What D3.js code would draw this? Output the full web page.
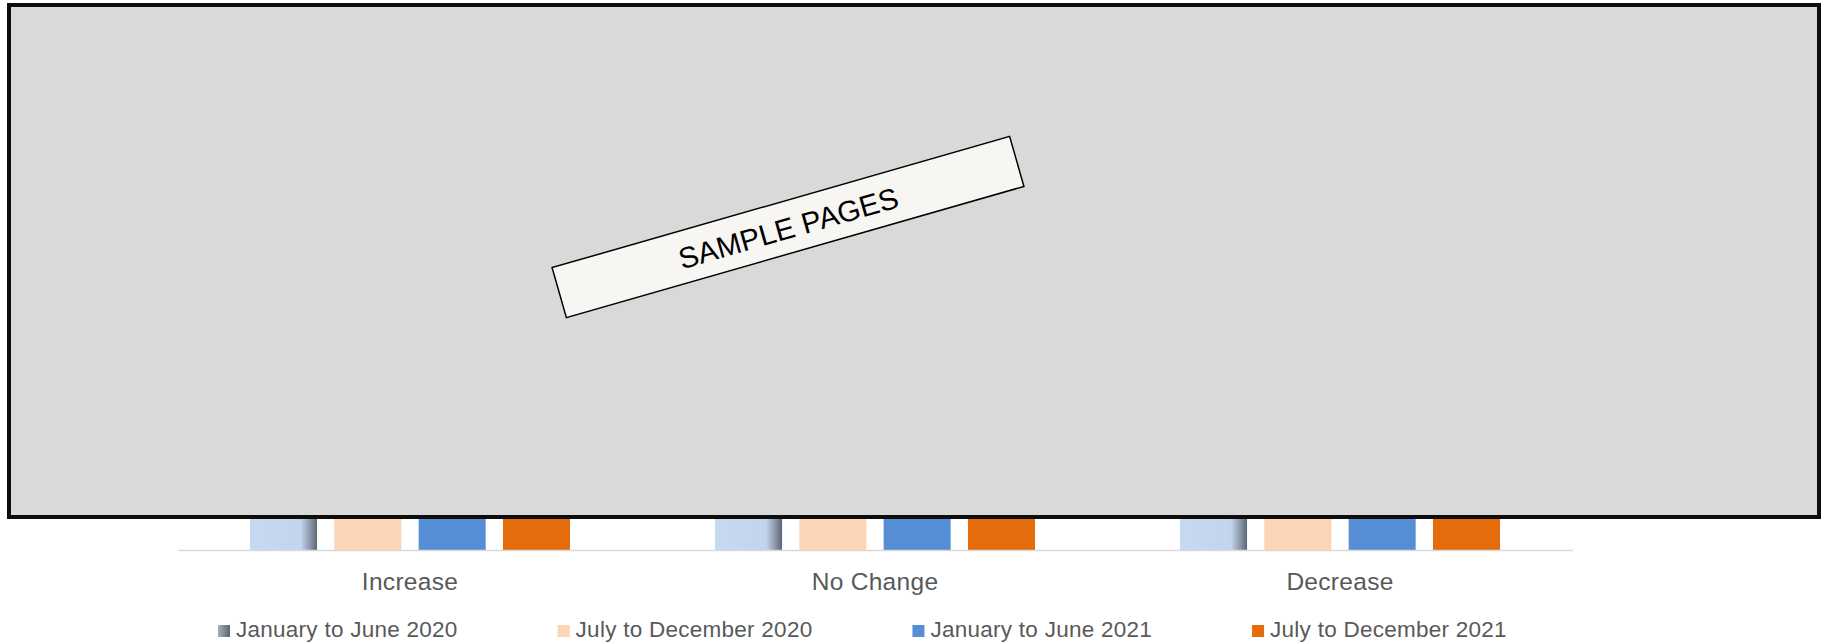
<!DOCTYPE html>
<html>
<head>
<meta charset="utf-8">
<script src="https://cdn.jsdelivr.net/npm/d3@7"></script>
<style>
  html, body { margin: 0; padding: 0; background: #ffffff; }
  svg { display: block; font-family: "Liberation Sans", Arial, sans-serif; }
</style>
</head>
<body>
<svg id="chart" width="1826" height="644"></svg>
<script>
// Survey responses by period
const categories = ["Increase", "No Change", "Decrease"];
const seriesNames = [
  "January to June 2020",
  "July to December 2020",
  "January to June 2021",
  "July to December 2021"
];
const jan2020 = [44, 36, 20];
const jul2020 = [41, 38, 21];
const jan2021 = [39, 40, 21];
const jul2021 = [42, 37, 21];
const seriesValues = [jan2020, jul2020, jan2021, jul2021];
const seriesColors = ["url(#grad-s1)", "#fbd5b5", "#558ed5", "#e46c0a"];
const legendColors = ["url(#grad-s1-key)", "#fbd5b5", "#558ed5", "#e46c0a"];

const svg = d3.select("#chart");

const defs = svg.append("defs");
const g1 = defs.append("linearGradient").attr("id", "grad-s1")
  .attr("x1", "0%").attr("x2", "100%").attr("y1", "0%").attr("y2", "0%");
g1.append("stop").attr("offset", "0%").attr("stop-color", "#c6d9f1");
g1.append("stop").attr("offset", "76%").attr("stop-color", "#c3d5ec");
g1.append("stop").attr("offset", "90%").attr("stop-color", "#8a97a8");
g1.append("stop").attr("offset", "100%").attr("stop-color", "#5b6675");
const g2 = defs.append("linearGradient").attr("id", "grad-s1-key")
  .attr("x1", "0%").attr("x2", "100%").attr("y1", "0%").attr("y2", "0%");
g2.append("stop").attr("offset", "0%").attr("stop-color", "#a3afbe");
g2.append("stop").attr("offset", "100%").attr("stop-color", "#5b6675");

// Scales
const x0 = d3.scaleBand().domain(categories).range([177.5, 1572.5]).padding(0);
const groupPad = 72.5;
const x1 = d3.scaleBand().domain(seriesNames)
  .range([groupPad, x0.bandwidth() - groupPad])
  .paddingInner(0.205).paddingOuter(0);
const y = d3.scaleLinear().domain([0, 50]).range([550, 40]);

// Bars
const groups = svg.append("g").selectAll("g")
  .data(categories)
  .join("g")
  .attr("transform", d => `translate(${x0(d)},0)`);

groups.selectAll("rect")
  .data((c, ci) => seriesNames.map((s, si) => ({ s, si, v: seriesValues[si][ci] })))
  .join("rect")
  .attr("x", d => x1(d.s))
  .attr("width", x1.bandwidth())
  .attr("y", d => y(d.v))
  .attr("height", d => y(0) - y(d.v))
  .attr("fill", d => seriesColors[d.si]);

// Category axis
const xAxis = svg.append("g")
  .attr("transform", `translate(0,${y(0)})`)
  .call(d3.axisBottom(x0).tickSize(0).tickPadding(0));
xAxis.select(".domain").attr("stroke", "#d9d9d9").attr("stroke-width", 1.5);
xAxis.selectAll(".tick text")
  .attr("y", 40)
  .attr("dy", 0)
  .attr("fill", "#595959")
  .attr("font-size", "24.5px")
  .attr("letter-spacing", "0.3px")
  .attr("font-family", "Liberation Sans, Arial, sans-serif");

// Legend
const legend = svg.append("g").attr("transform", "translate(0,637)");
let lx = 218;
seriesNames.forEach((name, i) => {
  const item = legend.append("g").attr("transform", `translate(${lx},0)`);
  item.append("rect")
    .attr("x", 0).attr("y", -12).attr("width", 12).attr("height", 12)
    .attr("fill", legendColors[i]);
  const t = item.append("text")
    .attr("x", 18).attr("y", 0)
    .attr("fill", "#595959")
    .attr("font-size", "22.5px")
    .attr("letter-spacing", "0.26px")
    .text(name);
  lx += 18 + t.node().getComputedTextLength() + 100;
});

// Overlay panel
svg.append("rect")
  .attr("x", 9).attr("y", 5)
  .attr("width", 1810).attr("height", 512)
  .attr("fill", "#d9d9d9")
  .attr("stroke", "#0d0d0d")
  .attr("stroke-width", 4);

const stamp = svg.append("g").attr("transform", "translate(788,227) rotate(-16)");
stamp.append("rect")
  .attr("x", -238).attr("y", -26)
  .attr("width", 476).attr("height", 52)
  .attr("fill", "#f7f6f2")
  .attr("stroke", "#000")
  .attr("stroke-width", 1.5);
stamp.append("text")
  .attr("x", 0).attr("y", 1)
  .attr("text-anchor", "middle")
  .attr("dominant-baseline", "central")
  .attr("font-size", "29.5px")
  .attr("fill", "#000")
  .text("SAMPLE PAGES");
</script>
</body>
</html>
